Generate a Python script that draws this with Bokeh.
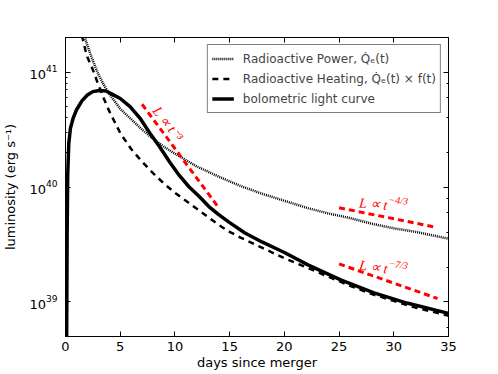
from bokeh.plotting import figure
from bokeh.models import Range1d, LinearAxis, LogAxis, Legend, LegendItem, Label, FixedTicker, LogTicker
from bokeh.embed import file_html
from bokeh.resources import INLINE

# ---------------- data ----------------
power_t = [1.7, 2.0, 2.5, 3.0, 3.5, 4.0, 5.0, 6.0, 7.0, 8.0, 9.0, 10.0, 12.0, 14.0,
           16.0, 18.0, 20.0, 22.0, 24.0, 26.0, 28.0, 30.0, 32.0, 35.0]
power_L = [2.11e41, 1.70e41, 1.26e41, 9.55e40, 7.76e40, 6.46e40, 4.79e40, 3.89e40,
           3.16e40, 2.63e40, 2.24e40, 1.95e40, 1.51e40, 1.23e40, 1.02e40, 8.71e39,
           7.59e39, 6.61e39, 5.89e39, 5.37e39, 4.79e39, 4.37e39, 4.07e39, 3.55e39]

heat_t = [1.5, 1.8, 2.0, 2.5, 3.0, 3.5, 4.0, 5.0, 6.0, 7.0, 8.0, 9.0, 10.0, 11.0,
          12.0, 13.0, 14.0, 15.0, 16.0, 18.0, 20.0, 22.0, 24.0, 26.0, 28.0, 30.0,
          32.0, 35.0]
heat_L = [2.09e41, 1.58e41, 1.35e41, 1.05e41, 7.76e40, 5.89e40, 4.57e40, 2.95e40,
          2.14e40, 1.66e40, 1.32e40, 1.07e40, 8.91e39, 7.59e39, 6.46e39, 5.50e39,
          4.68e39, 4.07e39, 3.63e39, 2.95e39, 2.40e39, 2.00e39, 1.66e39, 1.38e39,
          1.17e39, 1.02e39, 8.91e38, 7.59e38]

bol_t = [0.1, 0.15, 0.2, 0.3, 0.45, 0.7, 1.0, 1.5, 2.0, 2.5, 3.1, 3.7, 4.2, 5.0,
         5.9, 6.8, 7.7, 8.6, 9.5, 10.4, 11.3, 12.2, 13.1, 14.0, 15.0, 16.4, 18.0,
         20.0, 22.2, 25.2, 28.2, 31.2, 35.0]
bol_L = [4.0e38, 4.0e39, 1.26e40, 2.40e40, 3.24e40, 3.98e40, 4.68e40, 5.62e40,
         6.31e40, 6.76e40, 6.92e40, 6.84e40, 6.46e40, 5.89e40, 5.01e40, 3.98e40,
         2.95e40, 2.24e40, 1.66e40, 1.26e40, 1.00e40, 8.32e39, 6.76e39, 5.75e39,
         4.90e39, 3.98e39, 3.31e39, 2.69e39, 2.09e39, 1.55e39, 1.20e39, 9.77e38,
         7.94e38]

slope3_t = [7.0, 14.0]
slope3_L = [5.25e40, 6.6e39]
slope43_t = [25.0, 33.8]
slope43_L = [6.6e39, 4.47e39]
slope73_t = [25.0, 34.0]
slope73_L = [2.14e39, 1.07e39]

x_ticks = [0, 5, 10, 15, 20, 25, 30, 35]
x_range = (0, 35)
y_range = (5e38, 2e41)
x_label = "days since merger"
y_label = "luminosity (erg s\u207b\u00b9)"
legend_labels = ["Radioactive Power, Q\u0307\u2091(t)",
                 "Radioactive Heating, Q\u0307\u2091(t) \u00d7 f(t)",
                 "bolometric light curve"]

# label anchors (data coordinates)
lab3_pos = (9.3, 3.6e40)
lab43_pos = (29.44, 6.9e39)
lab73_pos = (29.44, 1.93e39)

# ---------------- figure ----------------
p = figure(width=498, height=374, x_range=Range1d(*x_range), y_range=Range1d(*y_range),
           y_axis_type="log", output_backend="svg", toolbar_location=None,
           min_border_left=62, min_border_right=50, min_border_top=37, min_border_bottom=38,
           background_fill_color="white", border_fill_color="white")
p.outline_line_color = "black"
p.outline_line_width = 1
p.xgrid.visible = False
p.ygrid.visible = False


def style_axis(ax):
    ax.axis_line_color = "black"
    ax.axis_line_width = 1
    ax.major_tick_in = 5
    ax.major_tick_out = 0
    ax.minor_tick_in = 2
    ax.minor_tick_out = 0
    ax.major_tick_line_color = "black"
    ax.minor_tick_line_color = "black"
    ax.major_label_text_font = "DejaVu Sans"
    ax.major_label_text_font_size = "13px"
    ax.major_label_text_color = "black"
    ax.axis_label_text_font = "DejaVu Sans"
    ax.axis_label_text_font_size = "13px"
    ax.axis_label_text_font_style = "normal"
    ax.axis_label_text_color = "black"


xa = p.xaxis[0]
style_axis(xa)
xa.ticker = FixedTicker(ticks=x_ticks)
xa.minor_tick_line_color = None
xa.axis_label = x_label
xa.major_label_standoff = 5
xa.axis_label_standoff = 1

ya = p.yaxis[0]
style_axis(ya)
ya.axis_label = y_label
ya.major_label_standoff = 8
ya.axis_label_standoff = 8

top = LinearAxis(ticker=FixedTicker(ticks=x_ticks))
style_axis(top)
top.minor_tick_line_color = None
top.major_label_text_color = None
top.major_label_text_font_size = "1px"
top.major_label_standoff = 0
p.add_layout(top, "above")

right = LogAxis(ticker=LogTicker())
style_axis(right)
right.major_label_text_color = None
right.major_label_text_font_size = "1px"
right.major_label_standoff = 0
p.add_layout(right, "right")

# ---------------- curves ----------------
r_pow = p.line(power_t, power_L, line_color="black", line_width=2.5, line_dash="1 1")
r_heat = p.line(heat_t, heat_L, line_color="black", line_width=2.5, line_dash="6 5")
r_bol = p.line(bol_t, bol_L, line_color="black", line_width=3.5)

red = "#ff0000"
p.line(slope3_t, slope3_L, line_color=red, line_width=3, line_dash="6 4")
p.line(slope43_t, slope43_L, line_color=red, line_width=3, line_dash="6 4")
p.line(slope73_t, slope73_L, line_color=red, line_width=3, line_dash="6 4")

lab_font = "Liberation Serif"
p.add_layout(Label(x=lab3_pos[0], y=lab3_pos[1], text="L \u221d t\u207b\u00b3", angle=-0.91,
                   text_align="center", text_baseline="middle", text_color=red,
                   text_font=lab_font, text_font_style="italic", text_font_size="14px"))
for pos, expo, ang in [(lab43_pos, "\u22124/3", -0.087), (lab73_pos, "\u22127/3", -0.14)]:
    p.add_layout(Label(x=pos[0], y=pos[1], text="L \u221d t", angle=ang,
                       text_align="right", text_baseline="alphabetic", text_color=red,
                       text_font=lab_font, text_font_style="italic", text_font_size="14px"))
    p.add_layout(Label(x=pos[0], y=pos[1], text=expo, angle=ang, x_offset=1, y_offset=6,
                       text_align="left", text_baseline="alphabetic", text_color=red,
                       text_font=lab_font, text_font_style="italic", text_font_size="10px"))

# ---------------- legend ----------------
legend = Legend(items=[LegendItem(label=legend_labels[0], renderers=[r_pow]),
                       LegendItem(label=legend_labels[1], renderers=[r_heat]),
                       LegendItem(label=legend_labels[2], renderers=[r_bol])],
                location="top_right", margin=7, padding=4, spacing=1,
                label_height=19, glyph_height=19, glyph_width=22, label_standoff=9,
                label_text_font="DejaVu Sans", label_text_font_size="12px",
                border_line_color="black", border_line_width=1,
                background_fill_color="white", background_fill_alpha=1)
p.add_layout(legend)

open("out.html", "w").write(file_html(p, INLINE))
